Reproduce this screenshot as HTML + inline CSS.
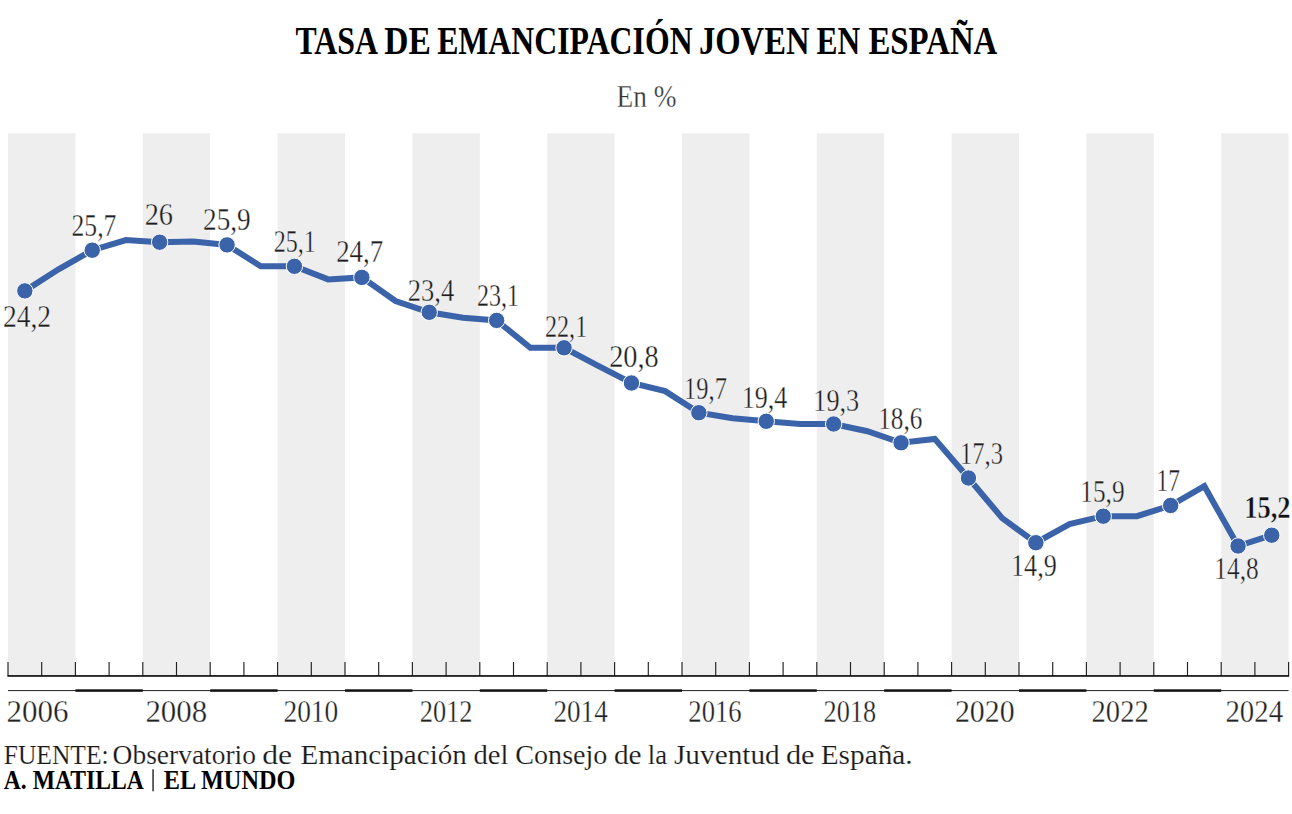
<!DOCTYPE html>
<html><head><meta charset="utf-8"><title>Tasa de emancipación joven en España</title>
<style>
html,body{margin:0;padding:0;background:#fff;}
body{width:1292px;height:814px;overflow:hidden;font-family:"Liberation Serif",serif;}
svg{display:block;}
text{font-family:"Liberation Serif",serif;}
</style></head><body>
<svg width="1292" height="814" viewBox="0 0 1292 814">
<rect x="8" y="133.3" width="67.4" height="542.7" fill="#eeeeee"/>
<rect x="142.8" y="133.3" width="67.4" height="542.7" fill="#eeeeee"/>
<rect x="277.6" y="133.3" width="67.4" height="542.7" fill="#eeeeee"/>
<rect x="412.4" y="133.3" width="67.4" height="542.7" fill="#eeeeee"/>
<rect x="547.2" y="133.3" width="67.4" height="542.7" fill="#eeeeee"/>
<rect x="682" y="133.3" width="67.4" height="542.7" fill="#eeeeee"/>
<rect x="816.8" y="133.3" width="67.4" height="542.7" fill="#eeeeee"/>
<rect x="951.6" y="133.3" width="67.4" height="542.7" fill="#eeeeee"/>
<rect x="1086.4" y="133.3" width="67.4" height="542.7" fill="#eeeeee"/>
<rect x="1221.2" y="133.3" width="67.4" height="542.7" fill="#eeeeee"/>
<path d="M8 662V676M41.7 662V676M75.4 662V676M109.1 662V676M142.8 662V676M176.5 662V676M210.2 662V676M243.9 662V676M277.6 662V676M311.3 662V676M345 662V676M378.7 662V676M412.4 662V676M446.1 662V676M479.8 662V676M513.5 662V676M547.2 662V676M580.9 662V676M614.6 662V676M648.3 662V676M682 662V676M715.7 662V676M749.4 662V676M783.1 662V676M816.8 662V676M850.5 662V676M884.2 662V676M917.9 662V676M951.6 662V676M985.3 662V676M1019 662V676M1052.7 662V676M1086.4 662V676M1120.1 662V676M1153.8 662V676M1187.5 662V676M1221.2 662V676M1254.9 662V676M1288.6 662V676" stroke="#222" stroke-width="1.15" fill="none"/>
<rect x="7.5" y="675.1" width="1281.6" height="1.7" fill="#111"/>
<rect x="8" y="690" width="1280.6" height="1.1" fill="#333"/>
<rect x="75.4" y="689.3" width="67.4" height="2.5" fill="#111"/>
<rect x="210.2" y="689.3" width="67.4" height="2.5" fill="#111"/>
<rect x="345" y="689.3" width="67.4" height="2.5" fill="#111"/>
<rect x="479.8" y="689.3" width="67.4" height="2.5" fill="#111"/>
<rect x="614.6" y="689.3" width="67.4" height="2.5" fill="#111"/>
<rect x="749.4" y="689.3" width="67.4" height="2.5" fill="#111"/>
<rect x="884.2" y="689.3" width="67.4" height="2.5" fill="#111"/>
<rect x="1019" y="689.3" width="67.4" height="2.5" fill="#111"/>
<rect x="1153.8" y="689.3" width="67.4" height="2.5" fill="#111"/>
<path d="M24.85 290.9 L58.55 269.3 L92.25 250.2 L125.95 240.1 L159.65 242.2 L193.35 241.6 L227.05 244.9 L260.75 266.3 L294.45 266.3 L328.15 279.4 L361.85 277.4 L395.55 301 L429.25 312.3 L462.95 317.8 L496.65 320.4 L530.35 347.8 L564.05 347.8 L597.75 365.6 L631.45 383 L665.15 391.1 L698.85 412.7 L732.55 418.3 L766.25 421.3 L799.95 424 L833.65 424 L867.35 431.2 L901.05 442.8 L934.75 438.9 L968.45 478 L1002.15 518.1 L1035.85 542.7 L1069.55 524.1 L1103.25 516.2 L1136.95 516.2 L1170.65 505.5 L1204.35 486.2 L1238.05 546 L1271.75 535.2" stroke="#3b63a9" stroke-width="6" fill="none" stroke-linejoin="miter"/>
<circle cx="24.85" cy="290.9" r="8.2" fill="#3b63a9" stroke="#fff" stroke-width="1"/>
<circle cx="92.25" cy="250.2" r="8.2" fill="#3b63a9" stroke="#fff" stroke-width="1"/>
<circle cx="159.65" cy="242.2" r="8.2" fill="#3b63a9" stroke="#fff" stroke-width="1"/>
<circle cx="227.05" cy="244.9" r="8.2" fill="#3b63a9" stroke="#fff" stroke-width="1"/>
<circle cx="294.45" cy="266.3" r="8.2" fill="#3b63a9" stroke="#fff" stroke-width="1"/>
<circle cx="361.85" cy="277.4" r="8.2" fill="#3b63a9" stroke="#fff" stroke-width="1"/>
<circle cx="429.25" cy="312.3" r="8.2" fill="#3b63a9" stroke="#fff" stroke-width="1"/>
<circle cx="496.65" cy="320.4" r="8.2" fill="#3b63a9" stroke="#fff" stroke-width="1"/>
<circle cx="564.05" cy="347.8" r="8.2" fill="#3b63a9" stroke="#fff" stroke-width="1"/>
<circle cx="631.45" cy="383" r="8.2" fill="#3b63a9" stroke="#fff" stroke-width="1"/>
<circle cx="698.85" cy="412.7" r="8.2" fill="#3b63a9" stroke="#fff" stroke-width="1"/>
<circle cx="766.25" cy="421.3" r="8.2" fill="#3b63a9" stroke="#fff" stroke-width="1"/>
<circle cx="833.65" cy="424" r="8.2" fill="#3b63a9" stroke="#fff" stroke-width="1"/>
<circle cx="901.05" cy="442.8" r="8.2" fill="#3b63a9" stroke="#fff" stroke-width="1"/>
<circle cx="968.45" cy="478" r="8.2" fill="#3b63a9" stroke="#fff" stroke-width="1"/>
<circle cx="1035.85" cy="542.7" r="8.2" fill="#3b63a9" stroke="#fff" stroke-width="1"/>
<circle cx="1103.25" cy="516.2" r="8.2" fill="#3b63a9" stroke="#fff" stroke-width="1"/>
<circle cx="1170.65" cy="505.5" r="8.2" fill="#3b63a9" stroke="#fff" stroke-width="1"/>
<circle cx="1238.05" cy="546" r="8.2" fill="#3b63a9" stroke="#fff" stroke-width="1"/>
<circle cx="1271.75" cy="535.2" r="8.2" fill="#3b63a9" stroke="#fff" stroke-width="1"/>
<g font-family="Liberation Serif, serif">
<text x="2.93" y="327.4" font-size="30.8" font-weight="normal" fill="#1e1e1e" textLength="48.16" lengthAdjust="spacingAndGlyphs" stroke="#fff" stroke-width="0.3">24,2</text>
<text x="71.57" y="235.5" font-size="30.8" font-weight="normal" fill="#1e1e1e" textLength="44.78" lengthAdjust="spacingAndGlyphs" stroke="#fff" stroke-width="0.3">25,7</text>
<text x="144.63" y="225" font-size="30.8" font-weight="normal" fill="#1e1e1e" textLength="28.35" lengthAdjust="spacingAndGlyphs" stroke="#fff" stroke-width="0.3">26</text>
<text x="203.05" y="229.7" font-size="30.8" font-weight="normal" fill="#1e1e1e" textLength="47.68" lengthAdjust="spacingAndGlyphs" stroke="#fff" stroke-width="0.3">25,9</text>
<text x="273.71" y="251.8" font-size="30.8" font-weight="normal" fill="#1e1e1e" textLength="42.06" lengthAdjust="spacingAndGlyphs" stroke="#fff" stroke-width="0.3">25,1</text>
<text x="336.21" y="262.4" font-size="30.8" font-weight="normal" fill="#1e1e1e" textLength="46.96" lengthAdjust="spacingAndGlyphs" stroke="#fff" stroke-width="0.3">24,7</text>
<text x="407.84" y="301.1" font-size="30.8" font-weight="normal" fill="#1e1e1e" textLength="46.43" lengthAdjust="spacingAndGlyphs" stroke="#fff" stroke-width="0.3">23,4</text>
<text x="476.95" y="305.7" font-size="30.8" font-weight="normal" fill="#1e1e1e" textLength="41.99" lengthAdjust="spacingAndGlyphs" stroke="#fff" stroke-width="0.3">23,1</text>
<text x="544.99" y="337.2" font-size="30.8" font-weight="normal" fill="#1e1e1e" textLength="42.23" lengthAdjust="spacingAndGlyphs" stroke="#fff" stroke-width="0.3">22,1</text>
<text x="609.14" y="366.6" font-size="30.8" font-weight="normal" fill="#1e1e1e" textLength="49.64" lengthAdjust="spacingAndGlyphs" stroke="#fff" stroke-width="0.3">20,8</text>
<text x="684.09" y="398.6" font-size="30.8" font-weight="normal" fill="#1e1e1e" textLength="42.78" lengthAdjust="spacingAndGlyphs" stroke="#fff" stroke-width="0.3">19,7</text>
<text x="741.71" y="407.6" font-size="30.8" font-weight="normal" fill="#1e1e1e" textLength="45.61" lengthAdjust="spacingAndGlyphs" stroke="#fff" stroke-width="0.3">19,4</text>
<text x="813.31" y="411.4" font-size="30.8" font-weight="normal" fill="#1e1e1e" textLength="45.94" lengthAdjust="spacingAndGlyphs" stroke="#fff" stroke-width="0.3">19,3</text>
<text x="878.22" y="428.5" font-size="30.8" font-weight="normal" fill="#1e1e1e" textLength="44.12" lengthAdjust="spacingAndGlyphs" stroke="#fff" stroke-width="0.3">18,6</text>
<text x="960.07" y="464.1" font-size="30.8" font-weight="normal" fill="#1e1e1e" textLength="42.97" lengthAdjust="spacingAndGlyphs" stroke="#fff" stroke-width="0.3">17,3</text>
<text x="1011.07" y="576.3" font-size="30.8" font-weight="normal" fill="#1e1e1e" textLength="45.68" lengthAdjust="spacingAndGlyphs" stroke="#fff" stroke-width="0.3">14,9</text>
<text x="1080.31" y="502" font-size="30.8" font-weight="normal" fill="#1e1e1e" textLength="44.26" lengthAdjust="spacingAndGlyphs" stroke="#fff" stroke-width="0.3">15,9</text>
<text x="1156.62" y="491.3" font-size="30.8" font-weight="normal" fill="#1e1e1e" textLength="23.37" lengthAdjust="spacingAndGlyphs" stroke="#fff" stroke-width="0.3">17</text>
<text x="1214.32" y="579.4" font-size="30.8" font-weight="normal" fill="#1e1e1e" textLength="44.38" lengthAdjust="spacingAndGlyphs" stroke="#fff" stroke-width="0.3">14,8</text>
<text x="1244.17" y="518.1" font-size="30.8" font-weight="bold" fill="#111" textLength="46.44" lengthAdjust="spacingAndGlyphs" stroke="#fff" stroke-width="0.4">15,2</text>
<text x="6.42" y="722.4" font-size="30.8" font-weight="normal" fill="#222" textLength="61.98" lengthAdjust="spacingAndGlyphs" stroke="#fff" stroke-width="0.3">2006</text>
<text x="145.42" y="722.4" font-size="30.8" font-weight="normal" fill="#222" textLength="61.83" lengthAdjust="spacingAndGlyphs" stroke="#fff" stroke-width="0.3">2008</text>
<text x="283.44" y="722.4" font-size="30.8" font-weight="normal" fill="#222" textLength="54.83" lengthAdjust="spacingAndGlyphs" stroke="#fff" stroke-width="0.3">2010</text>
<text x="419.86" y="722.4" font-size="30.8" font-weight="normal" fill="#222" textLength="52.67" lengthAdjust="spacingAndGlyphs" stroke="#fff" stroke-width="0.3">2012</text>
<text x="553.45" y="722.4" font-size="30.8" font-weight="normal" fill="#222" textLength="54.25" lengthAdjust="spacingAndGlyphs" stroke="#fff" stroke-width="0.3">2014</text>
<text x="688.31" y="722.4" font-size="30.8" font-weight="normal" fill="#222" textLength="53.37" lengthAdjust="spacingAndGlyphs" stroke="#fff" stroke-width="0.3">2016</text>
<text x="823.61" y="722.4" font-size="30.8" font-weight="normal" fill="#222" textLength="52.63" lengthAdjust="spacingAndGlyphs" stroke="#fff" stroke-width="0.3">2018</text>
<text x="954.92" y="722.4" font-size="30.8" font-weight="normal" fill="#222" textLength="59.66" lengthAdjust="spacingAndGlyphs" stroke="#fff" stroke-width="0.3">2020</text>
<text x="1091.56" y="722.4" font-size="30.8" font-weight="normal" fill="#222" textLength="57.16" lengthAdjust="spacingAndGlyphs" stroke="#fff" stroke-width="0.3">2022</text>
<text x="1225.46" y="722.4" font-size="30.8" font-weight="normal" fill="#222" textLength="57.64" lengthAdjust="spacingAndGlyphs" stroke="#fff" stroke-width="0.3">2024</text>
<text x="295.47" y="53.9" font-size="39.2" font-weight="bold" fill="#000" textLength="82.51" lengthAdjust="spacingAndGlyphs">TASA</text>
<text x="384.28" y="53.9" font-size="39.2" font-weight="bold" fill="#000" textLength="46.57" lengthAdjust="spacingAndGlyphs">DE</text>
<text x="437.18" y="53.9" font-size="39.2" font-weight="bold" fill="#000" textLength="255.41" lengthAdjust="spacingAndGlyphs">EMANCIPACIÓN</text>
<text x="698.94" y="53.9" font-size="39.2" font-weight="bold" fill="#000" textLength="110.51" lengthAdjust="spacingAndGlyphs">JOVEN</text>
<text x="816.59" y="53.9" font-size="39.2" font-weight="bold" fill="#000" textLength="43.64" lengthAdjust="spacingAndGlyphs">EN</text>
<text x="868.5" y="53.9" font-size="39.2" font-weight="bold" fill="#000" textLength="128.77" lengthAdjust="spacingAndGlyphs">ESPAÑA</text>
<text x="616.46" y="107" font-size="30.6" font-weight="normal" fill="#333" textLength="59.96" lengthAdjust="spacingAndGlyphs" stroke="#fff" stroke-width="0.3">En %</text>
<text x="3.74" y="763.6" font-size="26.6" font-weight="normal" fill="#1a1a1a" textLength="104.88" lengthAdjust="spacingAndGlyphs" stroke="#fff" stroke-width="0.15">FUENTE:</text>
<text x="112.59" y="763.6" font-size="26.6" font-weight="normal" fill="#1a1a1a" textLength="143.36" lengthAdjust="spacingAndGlyphs" stroke="#fff" stroke-width="0.15">Observatorio</text>
<text x="262.19" y="763.6" font-size="26.6" font-weight="normal" fill="#1a1a1a" textLength="29.94" lengthAdjust="spacingAndGlyphs" stroke="#fff" stroke-width="0.15">de</text>
<text x="300.41" y="763.6" font-size="26.6" font-weight="normal" fill="#1a1a1a" textLength="166.46" lengthAdjust="spacingAndGlyphs" stroke="#fff" stroke-width="0.15">Emancipación</text>
<text x="473.43" y="763.6" font-size="26.6" font-weight="normal" fill="#1a1a1a" textLength="34.93" lengthAdjust="spacingAndGlyphs" stroke="#fff" stroke-width="0.15">del</text>
<text x="515.32" y="763.6" font-size="26.6" font-weight="normal" fill="#1a1a1a" textLength="92.11" lengthAdjust="spacingAndGlyphs" stroke="#fff" stroke-width="0.15">Consejo</text>
<text x="613.91" y="763.6" font-size="26.6" font-weight="normal" fill="#1a1a1a" textLength="27.69" lengthAdjust="spacingAndGlyphs" stroke="#fff" stroke-width="0.15">de</text>
<text x="647.78" y="763.6" font-size="26.6" font-weight="normal" fill="#1a1a1a" textLength="19.34" lengthAdjust="spacingAndGlyphs" stroke="#fff" stroke-width="0.15">la</text>
<text x="673.97" y="763.6" font-size="26.6" font-weight="normal" fill="#1a1a1a" textLength="105.81" lengthAdjust="spacingAndGlyphs" stroke="#fff" stroke-width="0.15">Juventud</text>
<text x="785.9" y="763.6" font-size="26.6" font-weight="normal" fill="#1a1a1a" textLength="28.71" lengthAdjust="spacingAndGlyphs" stroke="#fff" stroke-width="0.15">de</text>
<text x="820.68" y="763.6" font-size="26.6" font-weight="normal" fill="#1a1a1a" textLength="91.98" lengthAdjust="spacingAndGlyphs" stroke="#fff" stroke-width="0.15">España.</text>
<text x="3.75" y="789.4" font-size="26.6" font-weight="bold" fill="#000" textLength="140.11" lengthAdjust="spacingAndGlyphs">A. MATILLA</text>
<text x="163.83" y="789.4" font-size="26.6" font-weight="bold" fill="#000" textLength="131.5" lengthAdjust="spacingAndGlyphs">EL MUNDO</text>
<rect x="152.4" y="769.3" width="1.3" height="22" fill="#111"/>
</g>
</svg>
</body></html>
